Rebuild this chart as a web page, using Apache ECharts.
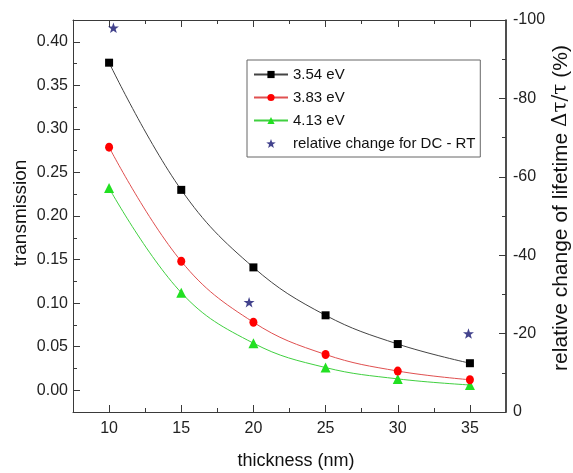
<!DOCTYPE html>
<html>
<head>
<meta charset="utf-8">
<script src="https://cdn.jsdelivr.net/npm/echarts@6/dist/echarts.min.js"></script>
<style>
html,body{margin:0;padding:0;background:#fff;}
#chart{width:573px;height:473px;}
</style>
</head>
<body>
<div id="chart"></div>
<script>
// ---- data ----
const thickness = [10, 15, 20, 25, 30, 35];
const trans354 = [0.376, 0.230, 0.141, 0.086, 0.053, 0.031];
const trans383 = [0.279, 0.148, 0.078, 0.041, 0.022, 0.012];
const trans413 = [0.232, 0.112, 0.054, 0.026, 0.013, 0.006];
const starX = [10.3, 19.7, 34.9];
const starY = [-98, -28, -20];
const xTickLabels = [10, 15, 20, 25, 30, 35];
const xMinorTicks = [12.5, 17.5, 22.5, 27.5, 32.5];
const yLeftLabels = [0, 0.05, 0.10, 0.15, 0.20, 0.25, 0.30, 0.35, 0.40];
const yLeftMinor = [0.025, 0.075, 0.125, 0.175, 0.225, 0.275, 0.325, 0.375];
const yRightLabels = [-100, -80, -60, -40, -20, 0];
const yRightMinor = [-90, -70, -50, -30, -10];
const seriesNames = ['3.54 eV', '3.83 eV', '4.13 eV', 'relative change for DC - RT'];

const FONT = 'Liberation Sans, Arial, sans-serif';
const starPath = 'path://M10,0 L12.35,6.76 L19.51,6.91 L13.8,11.24 L15.88,18.09 L10,14 L4.12,18.09 L6.2,11.24 L0.49,6.91 L7.65,6.76 Z';

const pair = (xs, ys) => xs.map((x, i) => [x, ys[i]]);

const axisColor = '#3a3a3a';
function xAx(pos, ticks, len, showLine, showLabel) {
  return {
    type: 'value', position: pos, min: 7.5, max: 37.5,
    axisLine: {show: showLine, onZero: false, lineStyle: {color: axisColor, width: 1}},
    axisTick: {show: true, inside: true, length: len, customValues: ticks, lineStyle: {color: axisColor}},
    axisLabel: {show: showLabel, customValues: ticks, fontFamily: FONT, fontSize: 16, color: '#222', margin: 9},
    splitLine: {show: false}
  };
}
function yAx(pos, min, max, inv, ticks, len, showLine, showLabel, fmt, lw) {
  return {
    type: 'value', position: pos, min: min, max: max, inverse: inv,
    axisLine: {show: showLine, onZero: false, lineStyle: {color: pos === 'right' ? '#222' : axisColor, width: lw || 1}},
    axisTick: {show: true, inside: true, length: len, customValues: ticks, lineStyle: {color: axisColor}},
    axisLabel: {show: showLabel, customValues: ticks, fontFamily: FONT, fontSize: 16, color: '#222',
      margin: pos === 'right' ? 7 : 5, formatter: fmt},
    splitLine: {show: false}
  };
}

const chart = echarts.init(document.getElementById('chart'), null, {renderer: 'canvas'});
chart.setOption({
  animation: false,
  backgroundColor: '#fff',
  grid: {left: 73, right: 67, top: 20, bottom: 61},
  xAxis: [
    xAx('bottom', xTickLabels, 7, true, true),
    xAx('bottom', xMinorTicks, 4, false, false),
    xAx('top', xTickLabels, 7, true, false),
    xAx('top', xMinorTicks, 4, false, false)
  ],
  yAxis: [
    yAx('left', -0.025, 0.425, false, yLeftLabels, 7, true, true, v => v.toFixed(2)),
    yAx('left', -0.025, 0.425, false, yLeftMinor, 4, false, false),
    yAx('right', -100, 0, true, yRightLabels, 7, true, true, v => String(v), 1.6),
    yAx('right', -100, 0, true, yRightMinor, 4, false, false)
  ],
  legend: {
    left: 247, top: 60, orient: 'vertical',
    backgroundColor: '#fff',
    borderColor: '#666', borderWidth: 1,
    padding: [7, 5, 6, 6], itemGap: 8,
    itemWidth: 34, itemHeight: 9,
    textStyle: {fontFamily: FONT, fontSize: 15, color: '#111'},
    data: [
      {name: seriesNames[0]},
      {name: seriesNames[1]},
      {name: seriesNames[2]},
      {name: seriesNames[3], icon: starPath}
    ]
  },
  graphic: [
    {type: 'text', x: 21, y: 213, rotation: Math.PI / 2,
      style: {text: 'transmission', font: '19px ' + FONT, fill: '#111', align: 'center', verticalAlign: 'middle'}},
    {type: 'text', x: 296, y: 461,
      style: {text: 'thickness (nm)', font: '18px ' + FONT, fill: '#111', align: 'center', verticalAlign: 'middle'}},
    {type: 'text', x: 561, y: 208, rotation: Math.PI / 2,
      style: {text: 'relative change of lifetime {g|Δτ/τ} (%)', font: '21px ' + FONT, fill: '#111',
        align: 'center', verticalAlign: 'middle',
        rich: {g: {fontFamily: 'DejaVu Serif', fontSize: 20, fill: '#111'}}}}
  ],
  series: [
    {name: seriesNames[0], type: 'line', smooth: 0.4, data: pair(thickness, trans354),
      symbol: 'rect', symbolSize: 8, itemStyle: {color: '#000'}, lineStyle: {color: '#444', width: 1}, z: 5},
    {name: seriesNames[1], type: 'line', smooth: 0.4, data: pair(thickness, trans383),
      symbol: 'circle', symbolSize: [8, 9], itemStyle: {color: '#ff0000'}, lineStyle: {color: '#e05050', width: 1}, z: 4},
    {name: seriesNames[2], type: 'line', smooth: 0.4, data: pair(thickness, trans413),
      symbol: 'triangle', symbolSize: 10, itemStyle: {color: '#22e022'}, lineStyle: {color: '#40d040', width: 1}, z: 3},
    {name: seriesNames[3], type: 'scatter', yAxisIndex: 2, data: pair(starX, starY),
      symbol: starPath, symbolSize: 11, symbolKeepAspect: true, itemStyle: {color: '#141470'}, z: 6}
  ]
});
</script>
</body>
</html>
